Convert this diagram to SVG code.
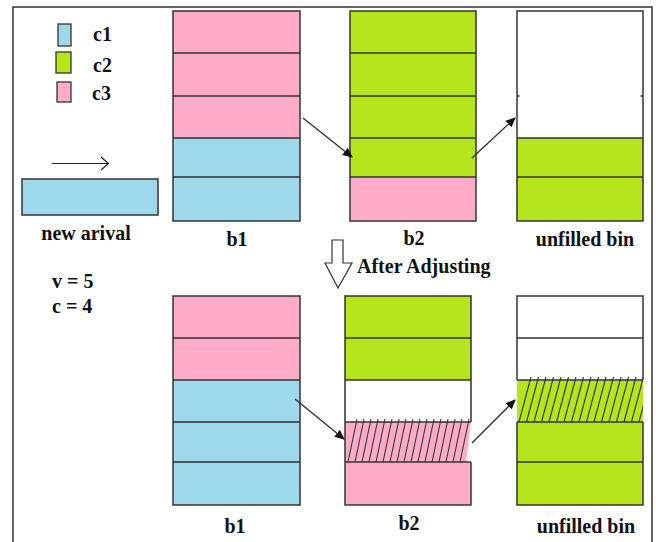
<svg xmlns="http://www.w3.org/2000/svg" width="656" height="542" viewBox="0 0 656 542">
<style>
.t{font-family:"Liberation Serif","DejaVu Serif","Times New Roman",serif;font-weight:bold;font-size:20px;fill:#111}
.pk{fill:#FFABC9}
.bl{fill:#9DD9EA}
.gr{fill:#B5E61D}
.wh{fill:#fff}
.ln{stroke:#333;stroke-width:1.5;fill:none}
.hatch{stroke:#333;stroke-width:1.1;fill:none}
.con{stroke:#333;stroke-width:1.4;fill:none;marker-end:url(#ah)}
</style>
<defs>
<marker id="ah" viewBox="0 0 10 10" refX="9" refY="5" markerWidth="10" markerHeight="10" markerUnits="userSpaceOnUse" orient="auto">
<path d="M0,0.5 L10,5 L0,9.5 Z" fill="#111"/>
</marker>
<clipPath id="cg"><rect x="517" y="370" width="126" height="52"/></clipPath>
</defs>
<rect width="656" height="542" fill="#fff"/>
<path class="ln" d="M13,542 V7 H652 V542"/>

<g id="legend">
<rect class="bl" x="58" y="24" width="13" height="22" stroke="#333" stroke-width="1.3"/>
<rect class="gr" x="56" y="52" width="15" height="21" stroke="#333" stroke-width="1.3"/>
<rect class="pk" x="57" y="82" width="14" height="20" stroke="#333" stroke-width="1.3"/>
<text class="t" x="93" y="41">c1</text>
<text class="t" x="93" y="72">c2</text>
<text class="t" x="92" y="100">c3</text>
</g>

<g id="new-arrival">
<path d="M52,163.5 H108 M101,157 L108.5,163.5 L101,170" stroke="#222" stroke-width="1.2" fill="none"/>
<rect class="bl" x="22" y="179" width="136" height="36" stroke="#333" stroke-width="1.5"/>
<text class="t" x="86" y="240" text-anchor="middle">new arival</text>
</g>

<g id="params">
<text class="t" x="52" y="288">v = 5</text>
<text class="t" x="52" y="313">c = 4</text>
</g>

<g id="top-b1">
<rect class="pk" x="173" y="11" width="127" height="127"/>
<rect class="bl" x="173" y="138" width="127" height="83"/>
<path class="ln" d="M173,53H300M173,96H300M173,138H300M173,177H300"/>
<rect class="ln" x="173" y="11" width="127" height="210"/>
<text class="t" x="237" y="246" text-anchor="middle">b1</text>
</g>

<g id="top-b2">
<rect class="gr" x="350" y="11" width="126" height="166"/>
<rect class="pk" x="350" y="177" width="126" height="44"/>
<path class="ln" d="M350,53H476M350,96H476M350,138H476M350,177H476"/>
<rect class="ln" x="350" y="11" width="126" height="210"/>
<text class="t" x="414" y="245" text-anchor="middle">b2</text>
</g>

<g id="top-unfilled">
<rect class="wh" x="517" y="11" width="126" height="127"/>
<rect class="gr" x="517" y="138" width="126" height="83"/>
<path class="ln" d="M517,138H643M517,177H643M517,96H519.5M640.5,96H643"/>
<rect class="ln" x="517" y="11" width="126" height="210"/>
<text class="t" x="585" y="246" text-anchor="middle">unfilled bin</text>
</g>

<g id="adjust">
<polygon points="332,240 343,240 343,263 352,263 338,288 325,263 332,263" fill="#fff" stroke="#333" stroke-width="1.2"/>
<text class="t" x="357" y="273">After Adjusting</text>
</g>

<g id="bottom-b1">
<rect class="pk" x="173" y="296" width="127" height="84"/>
<rect class="bl" x="173" y="380" width="127" height="125"/>
<path class="ln" d="M173,338H300M173,380H300M173,422H300M173,462H300"/>
<rect class="ln" x="173" y="296" width="127" height="209"/>
<text class="t" x="235" y="533" text-anchor="middle">b1</text>
</g>

<g id="bottom-b2">
<rect class="gr" x="345" y="296" width="126" height="84"/>
<rect class="wh" x="345" y="380" width="126" height="42"/>
<polygon class="pk" points="345,422 471,422 466,462 345,462"/>
<rect class="pk" x="345" y="462" width="126" height="43"/>
<path class="hatch" d="M348,462L357,419M355,462L364,419M362,462L371,419M369,462L378,419M376,462L385,419M383,462L392,419M390,462L399,419M397,462L406,419M404,462L413,419M411,462L420,419M418,462L427,419M425,462L434,419M432,462L441,419M439,462L448,419M446,462L455,419M453,462L462,419M460,462L469,419"/>
<path class="ln" d="M345,338H471M345,380H471M345,422H471M345,462H471M471,422V296H345V505H471V462"/>
<text class="t" x="409" y="530" text-anchor="middle">b2</text>
</g>

<g id="bottom-unfilled">
<rect class="wh" x="517" y="296" width="126" height="84"/>
<rect class="gr" x="517" y="380" width="126" height="42"/>
<rect class="gr" x="517" y="422" width="126" height="83"/>
<path class="hatch" clip-path="url(#cg)" d="M519,422L531,377M526.5,422L538.5,377M534,422L546,377M541.5,422L553.5,377M549,422L561,377M556.5,422L568.5,377M564,422L576,377M571.5,422L583.5,377M579,422L591,377M586.5,422L598.5,377M594,422L606,377M601.5,422L613.5,377M609,422L621,377M616.5,422L628.5,377M624,422L636,377M631.5,422L643.5,377M639,422L651,377"/>
<path class="ln" d="M517,338H643M517,380H643M517,422H643M517,462H643M517,380V296H643V380M517,422V505H643V422"/>
<text class="t" x="586" y="533" text-anchor="middle">unfilled bin</text>
</g>

<g id="connectors">
<path class="con" d="M303,118 L352,157"/>
<path class="con" d="M472,158 L515,118"/>
<path class="con" d="M295,399 L344,439"/>
<path class="con" d="M472,443 L515,400"/>
</g>
</svg>
